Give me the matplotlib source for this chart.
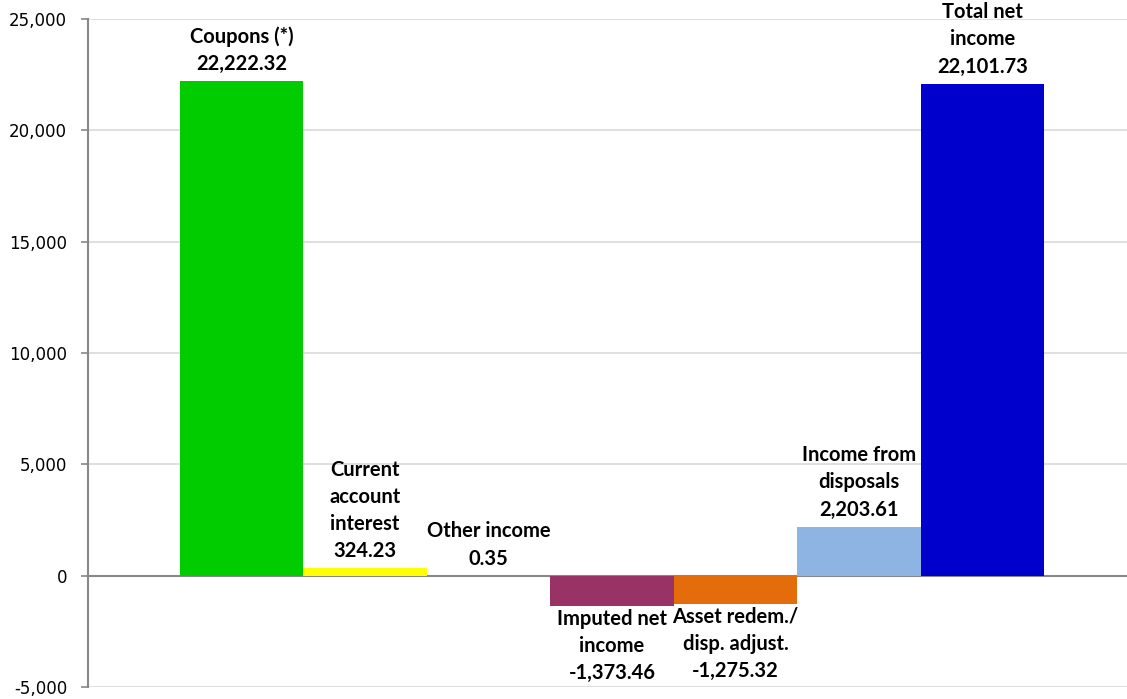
import numpy as np
import matplotlib.pyplot as plt
from matplotlib.ticker import FuncFormatter

# Income components
categories = ['Coupons (*)', 'Current\naccount\ninterest', 'Other income',
              'Imputed net\nincome', 'Asset redem./\ndisp. adjust.',
              'Income from\ndisposals', 'Total net\nincome']
values = [22222.32, 324.23, 0.35, -1373.46, -1275.32, 2203.61, 22101.73]
colors = ['#00CC00', '#FFFF00', '#FF9900', '#993366', '#E46C0A', '#8EB4E3', '#0000CC']
yticks = [-5000, 0, 5000, 10000, 15000, 20000, 25000]


def main():
    fig = plt.figure(figsize=(11.27, 6.99), dpi=100)
    ax = fig.add_axes([0.0781, 0.0172, 0.9219, 0.9556])

    x = np.arange(len(values))
    ax.bar(x, values, width=1.0, color=colors, zorder=2)

    # data labels: name + value, above positive bars, below negative ones
    for xi, name, v in zip(x, categories, values):
        text = f"{name}\n{v:,.2f}"
        if v >= 0:
            ax.annotate(text, (xi, v), xytext=(0, 5), textcoords='offset points',
                        ha='center', va='bottom', fontsize=14.5, fontweight='bold',
                        family='Lato', linespacing=1.45, zorder=3)
        else:
            ax.annotate(text, (xi, v), xytext=(0, -2), textcoords='offset points',
                        ha='center', va='top', fontsize=14.5, fontweight='bold',
                        family='Lato', linespacing=1.45, zorder=3)

    ax.set_ylim(-5000, 25000)
    ax.set_xlim(-1.243, 7.17)
    ax.set_yticks(yticks)
    ax.yaxis.set_major_formatter(FuncFormatter(lambda v, p: f"{v:,.0f}"))
    ax.set_xticks([])
    ax.tick_params(axis='y', labelsize=12, length=5, width=1.2, color='#888888', pad=10)

    ax.grid(axis='y', color='#d9d9d9', linewidth=1.2, zorder=0)
    ax.set_axisbelow(True)
    ax.axhline(0, color='#888888', linewidth=1.5, zorder=1)

    for s in ['top', 'right', 'bottom']:
        ax.spines[s].set_visible(False)
    ax.spines['left'].set_color('#888888')
    ax.spines['left'].set_linewidth(1.5)

    fig.savefig('out.png', dpi=100)


if __name__ == "__main__":
    main()
